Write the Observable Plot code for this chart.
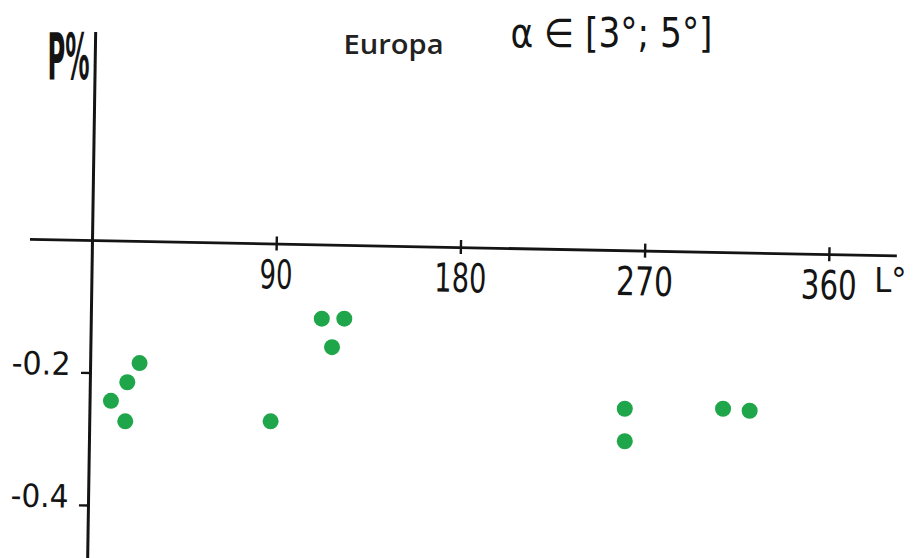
<!DOCTYPE html>
<html>
<head>
<meta charset="utf-8">
<script src="https://cdn.jsdelivr.net/npm/d3@7"></script>
<script src="https://cdn.jsdelivr.net/npm/@observablehq/plot@0.6"></script>
<style>
  html, body { margin: 0; padding: 0; background: #fff; }
  #chart svg { display: block; }
</style>
</head>
<body>
<div id="chart"></div>
<script>
// Galactic longitude L (degrees) and polarisation P (%) of the observed stars
const longitude    = [23, 17, 9, 16, 87, 112, 123, 117, 260, 260, 308, 321];
const polarization = [-0.185, -0.214, -0.242, -0.273, -0.273, -0.118, -0.118, -0.161, -0.254, -0.303, -0.254, -0.257];

// Axis ticks and their labels
const xTicks = [90, 180, 270, 360];
const xTickLabels = ["90", "180", "270", "360"];
const yTicks = [-0.2, -0.4];
const yTickLabels = ["-0.2", "-0.4"];

// Headings and axis names
const region = "Europa";
const latitudeRange = "α ∈ [3°; 5°]";
const xName = "L°";
const yName = "P%";

const points = longitude.map((L, i) => ({L, P: polarization[i]}));

const W = 916, H = 558;
const M = {top: 240, right: 87, bottom: 53, left: 92};
// place an annotation, vertically centred, at a pixel spot of the drawing
const at = (px, py) => ({frameAnchor: "top-left", lineAnchor: "middle", dx: px - M.left, dy: py - M.top});

const ink = "#141414";
const green = "#1fa64a";
const narrow = "'Liberation Sans Narrow', 'DejaVu Sans Condensed', 'Arial Narrow', sans-serif";

const plot = Plot.plot({
  width: W,
  height: H,
  marginTop: M.top,
  marginRight: M.right,
  marginBottom: M.bottom,
  marginLeft: M.left,
  x: {domain: [0, 360], axis: null},
  y: {domain: [-0.4, 0], axis: null},
  marks: [
    // horizontal axis: line, ticks, labels
    Plot.ruleY([0], {stroke: ink, strokeWidth: 2.8, insetLeft: -62, insetRight: -68, ariaDescription: "x-axis"}),
    Plot.ruleX(xTicks, {x: d => d, y1: 0, y2: 0, insetTop: -7, insetBottom: -7, stroke: ink, strokeWidth: 2.4, ariaDescription: "x-axis"}),
    Plot.text(xTicks, {x: d => d, y: 0, text: (d, i) => xTickLabels[i], lineAnchor: "top", dy: 16,
      fontSize: 40, fontFamily: narrow, fill: ink, ariaDescription: "x-axis"}),
    Plot.text([xName], {...at(906, 281), text: d => d, textAnchor: "end",
      fontSize: 34, fontFamily: narrow, fill: ink}),

    // vertical axis: line, ticks, labels
    Plot.ruleX([0], {stroke: ink, strokeWidth: 3, insetTop: -208, insetBottom: -53, ariaDescription: "y-axis"}),
    Plot.ruleY(yTicks, {y: d => d, x1: 0, x2: 0, insetLeft: -9, insetRight: -2, stroke: ink, strokeWidth: 2.4, ariaDescription: "y-axis"}),
    Plot.text(yTicks, {x: 0, y: d => d, text: (d, i) => yTickLabels[i], textAnchor: "end", dx: -20, dy: -8,
      fontSize: 32, fontWeight: 500, fontFamily: narrow, fill: ink, ariaDescription: "y-axis"}),
    Plot.text([yName], {...at(47, 58), text: d => d, textAnchor: "start",
      fontSize: 64, fontWeight: "bold", fontFamily: "'DejaVu Sans Condensed', 'DejaVu Sans', sans-serif", fill: ink}),

    // headings
    Plot.text([region], {...at(343, 45), text: d => d, textAnchor: "start",
      fontSize: 27, fontWeight: 600, fontFamily: "'Open Sans', 'Noto Sans', sans-serif", fill: "#222"}),
    Plot.text([latitudeRange], {...at(510, 34), text: d => d, textAnchor: "start",
      fontSize: 40, fontFamily: narrow, fill: ink}),

    // observations
    Plot.dot(points, {x: "L", y: "P", r: 8, fill: green, stroke: "none"})
  ]
});

// the hand-drawn axes lean about a degree clockwise around the origin
const ox = plot.scale("x").apply(0), oy = plot.scale("y").apply(0);
const lean = {"x-axis": 1.1, "y-axis": 0.87};
for (const [key, deg] of Object.entries(lean)) {
  plot.querySelectorAll(`g[aria-description="${key}"]`).forEach(g => {
    const t = g.getAttribute("transform") || "";
    g.setAttribute("transform", `rotate(${deg} ${ox} ${oy}) ${t}`);
  });
}

// squeeze lettering to its drawn width
const widths = {
  "P%": 42, "Europa": 100, "α ∈ [3°; 5°]": 202,
  "90": 33, "180": 52, "270": 57, "360": 56, "-0.2": 59, "-0.4": 58
};
plot.querySelectorAll("text").forEach(t => {
  const w = widths[t.textContent];
  if (w) {
    t.setAttribute("textLength", w);
    t.setAttribute("lengthAdjust", "spacingAndGlyphs");
  }
});

document.getElementById("chart").appendChild(plot);
</script>
</body>
</html>
